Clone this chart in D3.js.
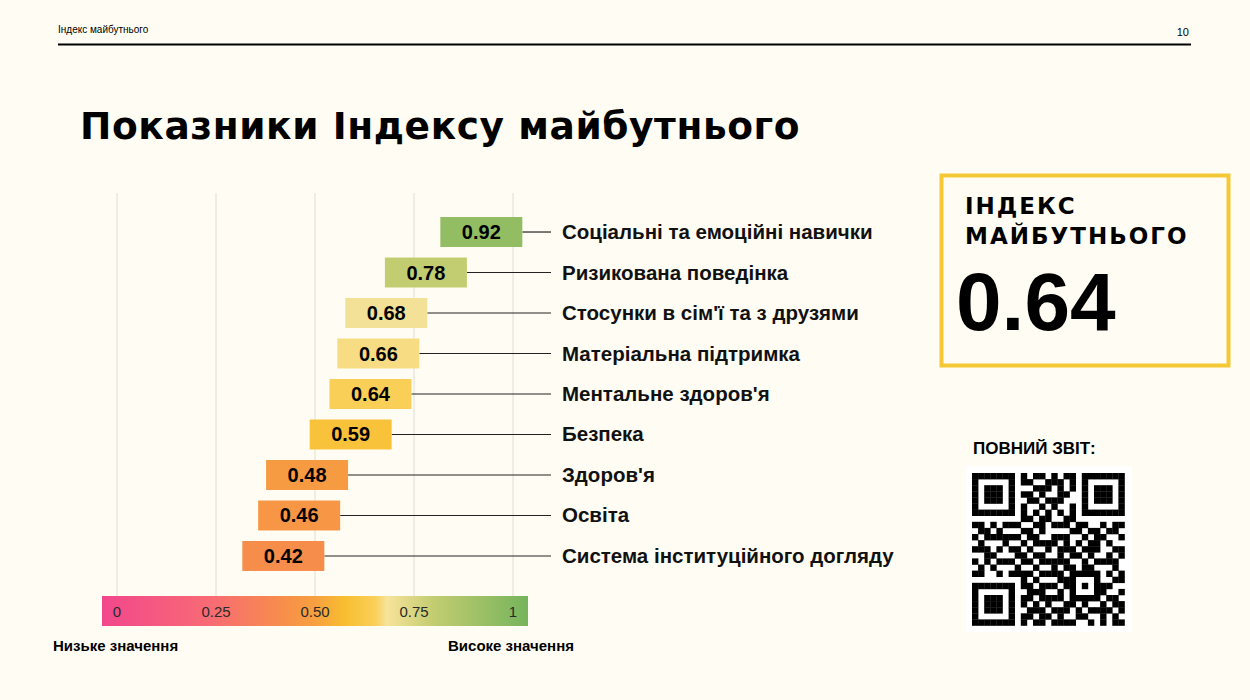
<!DOCTYPE html>
<html><head><meta charset="utf-8">
<script src="https://cdn.jsdelivr.net/npm/d3@7"></script>
<style>body{margin:0;background:#fffdf3}svg{display:block}</style>
</head><body><svg id="c" width="1250" height="700"></svg>
<script>
const categories = ["Соціальні та емоційні навички","Ризикована поведінка","Стосунки в сім'ї та з друзями","Матеріальна підтримка","Ментальне здоров'я","Безпека","Здоров'я","Освіта","Система інституційного догляду"];
const values = [0.92,0.78,0.68,0.66,0.64,0.59,0.48,0.46,0.42];
const ticks = [0,0.25,0.5,0.75,1];
const tickLabels = ["0","0.25","0.50","0.75","1"];
const rampStops = [0,0.25,0.42,0.5,0.57,0.64,0.67,0.78,1];
const rampColors = ["#f2478c","#f86a75","#f78d4b","#f7a040","#f8be30","#f9cf58","#f7e39a","#c2cc70","#76b45c"];
const indexValue = 0.64;
const qr = [
"1111111010110101101111111",
"1000001011001110101000001",
"1011101000111010101011101",
"1011101011010011001011101",
"1011101001101110001011101",
"1000001010010100101000001",
"1111111010101010101111111",
"0000000011011001100000000",
"1101011100110111011001011",
"0110100011010000110110110",
"1011111101100111001011001",
"0100010010111101010110100",
"1110101101001011101110011",
"0011000110110010110100101",
"1010111011011111001011110",
"0101000100100101101100010",
"1100101111011110111110101",
"0000000010100011100010011",
"1111111011011101101011100",
"1000001001110010100011001",
"1011101011011110111110110",
"1011101010101001101001011",
"1011101001110111010111101",
"1000001011011010011001010",
"1111111010110111100101011"];

const svg = d3.select("#c");
const x = d3.scaleLinear().domain([0,1]).range([117,513]);
const y = d3.scaleBand().domain(categories).range([206.5,581.5]).padding(0.26);
const color = d3.scaleLinear().domain(rampStops).range(rampColors);

// header
svg.append("text").attr("x",58).attr("y",33).attr("font-family","Liberation Sans").attr("font-size",10).text("Індекс майбутнього");
svg.append("text").attr("x",1189).attr("y",36).attr("text-anchor","end").attr("font-family","Liberation Sans").attr("font-size",11).text("10");
svg.append("line").attr("x1",58).attr("x2",1191).attr("y1",44.5).attr("y2",44.5).attr("stroke","#000").attr("stroke-width",2);
svg.append("text").attr("x",80).attr("y",139).attr("font-family","DejaVu Sans").attr("font-weight","bold").attr("font-size",37.5).attr("letter-spacing",0.6).text("Показники Індексу майбутнього");

// grid
svg.append("g").selectAll("line").data(ticks).join("line")
  .attr("x1",d=>x(d)).attr("x2",d=>x(d)).attr("y1",193).attr("y2",596)
  .attr("stroke","#e0ddd3").attr("stroke-width",1);

// gradient legend
const grad = svg.append("defs").append("linearGradient").attr("id","g");
rampStops.forEach((s,i)=>grad.append("stop").attr("offset",s).attr("stop-color",rampColors[i]));
const lx = d3.scaleLinear().domain([-0.038,1.038]).range([102,528]);
svg.append("rect").attr("x",lx(-0.038)).attr("width",lx(1.038)-lx(-0.038)).attr("y",596).attr("height",30).attr("fill","url(#g)");
svg.append("g").selectAll("text").data(ticks).join("text")
  .attr("x",d=>x(d)).attr("y",617).attr("text-anchor","middle").attr("font-family","Liberation Sans").attr("font-size",15).attr("fill","#2a2a2a")
  .text((d,i)=>tickLabels[i]);
svg.append("text").attr("x",53).attr("y",651).attr("font-family","Liberation Sans").attr("font-weight","bold").attr("font-size",15).text("Низьке значення");
svg.append("text").attr("x",448).attr("y",651).attr("font-family","Liberation Sans").attr("font-weight","bold").attr("font-size",15).text("Високе значення");

// bars
const bw = 82;
const rows = svg.append("g").selectAll("g").data(categories).join("g");
rows.append("line").attr("x1",(d,i)=>x(values[i])+bw/2).attr("x2",551)
  .attr("y1",d=>y(d)+y.bandwidth()/2).attr("y2",d=>y(d)+y.bandwidth()/2).attr("stroke","#222").attr("stroke-width",1.2);
rows.append("rect").attr("x",(d,i)=>x(values[i])-bw/2).attr("width",bw)
  .attr("y",d=>y(d)).attr("height",y.bandwidth()).attr("fill",(d,i)=>color(values[i]));
rows.append("text").attr("x",(d,i)=>x(values[i])).attr("y",d=>y(d)+y.bandwidth()/2+7).attr("text-anchor","middle")
  .attr("font-family","Liberation Sans").attr("font-weight","bold").attr("font-size",20).text((d,i)=>values[i].toFixed(2));
rows.append("text").attr("x",562).attr("y",d=>y(d)+y.bandwidth()/2+7)
  .attr("font-family","Liberation Sans").attr("font-weight","bold").attr("font-size",20.5).attr("fill","#111").text(d=>d);

// index box
svg.append("rect").attr("x",941.5).attr("y",175.5).attr("width",287).attr("height",190).attr("fill","none").attr("stroke","#f4c935").attr("stroke-width",4);
svg.append("text").attr("x",965).attr("y",214).attr("font-family","DejaVu Sans").attr("font-weight","bold").attr("font-size",23).attr("letter-spacing",2).text("ІНДЕКС");
svg.append("text").attr("x",965).attr("y",244).attr("font-family","DejaVu Sans").attr("font-weight","bold").attr("font-size",23).attr("letter-spacing",2).text("МАЙБУТНЬОГО");
svg.append("text").attr("x",956).attr("y",330).attr("font-family","Liberation Sans").attr("font-weight","bold").attr("font-size",82).text(indexValue.toFixed(2));

// QR
svg.append("text").attr("x",973).attr("y",454).attr("font-family","Liberation Sans").attr("font-weight","bold").attr("font-size",17).text("ПОВНИЙ ЗВІТ:");
const m = 6.1;
const cells = [];
qr.forEach((r,j)=>r.split("").forEach((c,i)=>{ if(c==="1") cells.push([i,j]); }));
svg.append("rect").attr("x",966).attr("y",466).attr("width",166).attr("height",166).attr("fill","#fff");
svg.append("g").selectAll("rect").data(cells).join("rect")
  .attr("x",d=>972+d[0]*m).attr("y",d=>473+d[1]*m).attr("width",m+0.3).attr("height",m+0.3).attr("fill","#000");
</script></body></html>
